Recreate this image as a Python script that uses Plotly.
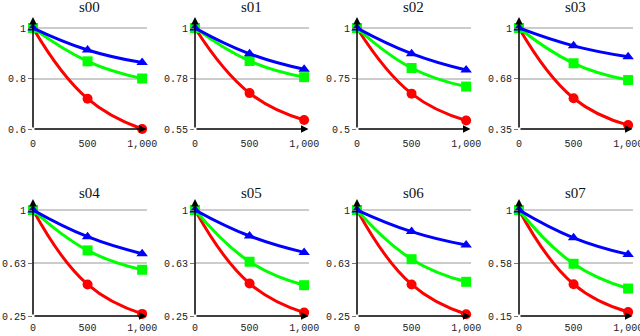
import plotly.graph_objects as go

steps = [0, 500, 1000]
titles = ['s00', 's01', 's02', 's03', 's04', 's05', 's06', 's07']

red = [[1, 0.72, 0.60], [1, 0.71, 0.59], [1, 0.675, 0.542], [1, 0.548, 0.375],
       [1, 0.473, 0.265], [1, 0.48, 0.274], [1, 0.473, 0.262], [1, 0.405, 0.182]]
green = [[1, 0.868, 0.80], [1, 0.853, 0.781], [1, 0.802, 0.71], [1, 0.773, 0.665],
         [1, 0.714, 0.577], [1, 0.634, 0.468], [1, 0.652, 0.492], [1, 0.569, 0.37]]
blue = [[1, 0.913, 0.863], [1, 0.885, 0.816], [1, 0.873, 0.792], [1, 0.885, 0.815],
        [1, 0.811, 0.691], [1, 0.816, 0.70], [1, 0.847, 0.752], [1, 0.777, 0.644]]

ytick_vals = [[0.6, 0.8, 1], [0.55, 0.775, 1], [0.5, 0.75, 1], [0.35, 0.675, 1],
              [0.25, 0.625, 1], [0.25, 0.625, 1], [0.25, 0.625, 1], [0.15, 0.575, 1]]
ytick_text = [['0.6', '0.8', '1'], ['0.55', '0.78', '1'], ['0.5', '0.75', '1'], ['0.35', '0.68', '1'],
              ['0.25', '0.63', '1'], ['0.25', '0.63', '1'], ['0.25', '0.63', '1'], ['0.15', '0.58', '1']]
xtick_vals = [0, 500, 1000]

W, H = 640, 336
series = [(red, '#ff0000', 'circle'), (green, '#00ff00', 'square'), (blue, '#0000ff', 'triangle-up')]
tickfont = dict(family='Liberation Mono, Courier New, monospace', size=10, color='#222')

fig = go.Figure()
annotations = []
layout = {}
for i in range(8):
    r, c = i // 4, i % 4
    n = '' if i == 0 else str(i + 1)
    x0 = 33 + 162 * c
    x1 = x0 + 113.5
    if r == 0:
        top_px, one_px, bot_px, title_px, xtl = 17, 28, 129, 7, 5
    else:
        top_px, one_px, bot_px, title_px, xtl = 199, 210, 316, 193, 2
    ymin = ytick_vals[i][0]
    ytop = 1 + (one_px - top_px) / (bot_px - one_px) * (1 - ymin)
    xmax = 1040

    for vals, col, sym in series:
        fig.add_trace(go.Scatter(
            x=steps, y=vals[i], mode='lines+markers',
            line=dict(color=col, width=3, shape='spline', smoothing=1.3),
            marker=dict(symbol=sym, size=10, color=col),
            xaxis='x' + n, yaxis='y' + n, showlegend=False, cliponaxis=False))

    layout['xaxis' + n] = dict(
        domain=[x0 / W, x1 / W], range=[0, xmax], anchor='y' + n, automargin=False,
        showgrid=False, zeroline=False, showline=False, ticklabeloverflow='allow',
        tickvals=xtick_vals, tickformat=',', ticks='outside', ticklen=xtl,
        tickcolor='rgba(0,0,0,0)', tickfont=tickfont)
    layout['yaxis' + n] = dict(
        domain=[1 - bot_px / H, 1 - top_px / H], range=[ymin, ytop], anchor='x' + n,
        automargin=False, ticklabeloverflow='allow',
        showgrid=True, gridcolor='#cccccc', gridwidth=1.5, zeroline=False, showline=False,
        tickvals=ytick_vals[i], ticktext=ytick_text[i], ticks='outside', ticklen=4,
        tickcolor='#777', tickfont=tickfont)

    # axes drawn as arrows
    annotations.append(dict(x=0, y=ytop, ax=0, ay=ymin, xref='x' + n, yref='y' + n,
                            axref='x' + n, ayref='y' + n, text='', showarrow=True,
                            arrowhead=2, arrowsize=1, arrowwidth=1.5, arrowcolor='black'))
    annotations.append(dict(x=xmax, y=ymin, ax=0, ay=ymin, xref='x' + n, yref='y' + n,
                            axref='x' + n, ayref='y' + n, text='', showarrow=True,
                            arrowhead=2, arrowsize=1, arrowwidth=1.5, arrowcolor='black'))
    annotations.append(dict(x=(x0 + x1) / 2 / W, y=1 - title_px / H, xref='paper', yref='paper',
                            text=titles[i], showarrow=False, xanchor='center', yanchor='middle',
                            font=dict(family='Liberation Serif, Times New Roman, serif', size=15,
                                      color='#111')))

fig.update_layout(
    width=W, height=H,
    margin=dict(l=0, r=0, t=0, b=0, pad=0),
    plot_bgcolor='white', paper_bgcolor='white',
    annotations=annotations,
    **layout)

# drop the default 8px page margin so the figure fills the window
fig.write_html("out.html", config={'displayModeBar': False},
               post_script="document.body.style.margin='0px';")
